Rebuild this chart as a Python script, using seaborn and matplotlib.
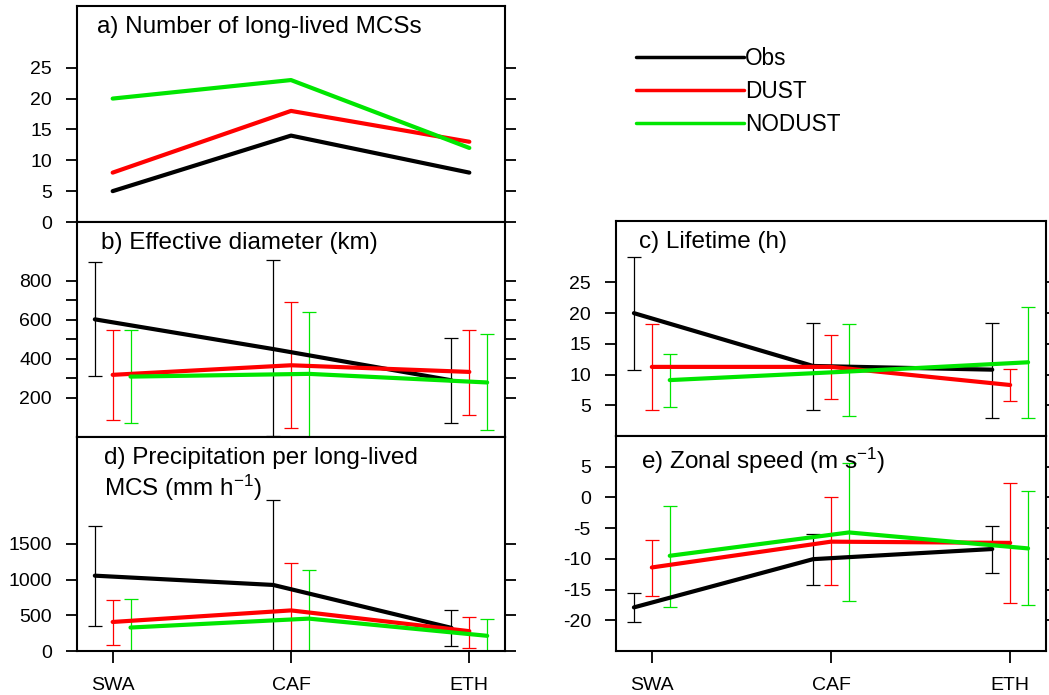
import numpy as np
import pandas as pd
import matplotlib
matplotlib.use('Agg')
import matplotlib.pyplot as plt
from matplotlib.lines import Line2D
import seaborn as sns

regions = ['SWA', 'CAF', 'ETH']
runs = ['Obs', 'DUST', 'NODUST']
colors = {'Obs': 'black', 'DUST': '#ff0000', 'NODUST': '#00e600'}

# a) number of long-lived MCSs
count_obs = [5, 14, 8]
count_dust = [8, 18, 13]
count_nodust = [20, 23, 12]

# b) effective diameter (km): mean, low, high
diam_obs = [602, 450, 290]
diam_obs_lo = [311, 5, 72]
diam_obs_hi = [897, 906, 508]
diam_dust = [318, 367, 333]
diam_dust_lo = [85, 44, 113]
diam_dust_hi = [550, 690, 549]
diam_nodust = [309, 323, 279]
diam_nodust_lo = [72, 0, 34]
diam_nodust_hi = [547, 639, 526]

# c) lifetime (h)
life_obs = [20.0, 11.4, 10.8]
life_obs_lo = [10.8, 4.3, 3.0]
life_obs_hi = [29.1, 18.4, 18.4]
life_dust = [11.25, 11.25, 8.3]
life_dust_lo = [4.3, 6.0, 5.65]
life_dust_hi = [18.2, 16.5, 10.9]
life_nodust = [9.1, 10.5, 12.0]
life_nodust_lo = [4.7, 3.2, 3.0]
life_nodust_hi = [13.3, 18.2, 21.0]

# d) precipitation per long-lived MCS
prec_obs = [1056, 926, 324]
prec_obs_lo = [347, 0, 74]
prec_obs_hi = [1755, 2120, 570]
prec_dust = [407, 569, 278]
prec_dust_lo = [83, 0, 37]
prec_dust_hi = [718, 1227, 477]
prec_nodust = [329, 454, 213]
prec_nodust_lo = [0, 0, 0]
prec_nodust_hi = [731, 1130, 444]

# e) zonal speed
zon_obs = [-17.9, -10.05, -8.4]
zon_obs_lo = [-20.2, -14.2, -12.3]
zon_obs_hi = [-15.5, -6.0, -4.6]
zon_dust = [-11.4, -7.2, -7.4]
zon_dust_lo = [-16.0, -14.3, -17.2]
zon_dust_hi = [-6.9, 0.05, 2.4]
zon_nodust = [-9.5, -5.7, -8.3]
zon_nodust_lo = [-17.8, -16.9, -17.5]
zon_nodust_hi = [-1.4, 5.6, 1.0]

sns.set_style('ticks')
plt.rcParams['font.family'] = ['Liberation Sans', 'DejaVu Sans']
plt.rcParams['mathtext.default'] = 'regular'
plt.rcParams['axes.unicode_minus'] = False
plt.rcParams['text.color'] = 'black'

W, H = 1049, 695
fig = plt.figure(figsize=(W / 100, H / 100), dpi=100)


def box(l, t, r, b):
    return [l / W, 1 - b / H, (r - l) / W, (b - t) / H]


def draw(ax, means, lows=None, highs=None, shift=0.1):
    offs = [-shift, 0, shift] if lows is not None else [0, 0, 0]
    rows = []
    for k, run in enumerate(runs):
        for i in range(3):
            rows.append({'x': i + offs[k], 'value': means[k][i], 'run': run})
        if lows is not None:
            m = np.array(means[k])
            err = [m - np.array(lows[k]), np.array(highs[k]) - m]
            ax.errorbar(np.arange(3) + offs[k], m, yerr=err, fmt='none',
                        ecolor=colors[run], elinewidth=0.9, capsize=5,
                        capthick=0.9, zorder=1)
    df = pd.DataFrame(rows)
    sns.lineplot(data=df, x='x', y='value', hue='run', hue_order=runs,
                 palette=colors, lw=3, legend=False, sort=False,
                 errorbar=None, ax=ax, zorder=2)
    ax.set_xlim(-0.2, 2.2)
    ax.set_xlabel('')
    ax.set_ylabel('')
    for s in ax.spines.values():
        s.set_linewidth(1.5)
        s.set_color('black')
    ax.tick_params(axis='y', which='both', left=True, right=True,
                   direction='out', length=8, width=1.3, labelsize=14,
                   pad=10, colors='black')


def xaxis(ax, show):
    ax.set_xticks([0, 1, 2])
    if show:
        ax.set_xticklabels(regions)
        ax.tick_params(axis='x', bottom=True, direction='out', length=8.5,
                       width=1.3, labelsize=14, pad=10, colors='black')
    else:
        ax.tick_params(axis='x', bottom=False, labelbottom=False)


TFS = 17.5

ax_a = fig.add_axes(box(77, 6, 505, 222))
draw(ax_a, [count_obs, count_dust, count_nodust])
ax_a.set_ylim(0, 35)
ax_a.set_yticks([0, 5, 10, 15, 20, 25])
xaxis(ax_a, False)
ax_a.text(0.047, 0.955, 'a) Number of long-lived MCSs', transform=ax_a.transAxes,
          fontsize=TFS, va='top')

ax_b = fig.add_axes(box(77, 222, 505, 437))
draw(ax_b, [diam_obs, diam_dust, diam_nodust],
     [diam_obs_lo, diam_dust_lo, diam_nodust_lo],
     [diam_obs_hi, diam_dust_hi, diam_nodust_hi])
ax_b.set_ylim(0, 1100)
ax_b.set_yticks(range(200, 900, 100))
ax_b.set_yticklabels([str(v) if v % 200 == 0 else '' for v in range(200, 900, 100)])
xaxis(ax_b, False)
ax_b.text(0.056, 0.955, 'b) Effective diameter (km)', transform=ax_b.transAxes,
          fontsize=TFS, va='top')

ax_d = fig.add_axes(box(77, 437, 505, 651))
draw(ax_d, [prec_obs, prec_dust, prec_nodust],
     [prec_obs_lo, prec_dust_lo, prec_nodust_lo],
     [prec_obs_hi, prec_dust_hi, prec_nodust_hi])
ax_d.set_ylim(0, 3000)
ax_d.set_yticks([0, 500, 1000, 1500])
xaxis(ax_d, True)
ax_d.text(0.063, 0.955, 'd) Precipitation per long-lived\nMCS (mm h$^{-1}$)',
          transform=ax_d.transAxes, fontsize=TFS, va='top', linespacing=1.2)

ax_c = fig.add_axes(box(616, 221, 1046, 436))
draw(ax_c, [life_obs, life_dust, life_nodust],
     [life_obs_lo, life_dust_lo, life_nodust_lo],
     [life_obs_hi, life_dust_hi, life_nodust_hi])
ax_c.set_ylim(0, 35)
ax_c.set_yticks([5, 10, 15, 20, 25])
xaxis(ax_c, False)
ax_c.text(0.053, 0.955, 'c) Lifetime (h)', transform=ax_c.transAxes,
          fontsize=TFS, va='top')

ax_e = fig.add_axes(box(616, 436, 1046, 651))
draw(ax_e, [zon_obs, zon_dust, zon_nodust],
     [zon_obs_lo, zon_dust_lo, zon_nodust_lo],
     [zon_obs_hi, zon_dust_hi, zon_nodust_hi])
ax_e.set_ylim(-25, 10)
ax_e.set_yticks([-20, -15, -10, -5, 0, 5])
xaxis(ax_e, True)
ax_e.text(0.058, 0.955, 'e) Zonal speed (m s$^{-1}$)', transform=ax_e.transAxes,
          fontsize=TFS, va='top')

handles = [Line2D([], [], color=colors[r], lw=2.5) for r in runs]
fig.legend(handles, runs, loc='upper left', bbox_to_anchor=(636 / W, 1 - 47 / H),
           frameon=False, fontsize=16.3, handlelength=4.75, handletextpad=0.05,
           labelspacing=0.44, borderpad=0, borderaxespad=0)

fig.savefig('out.png', dpi=100)
